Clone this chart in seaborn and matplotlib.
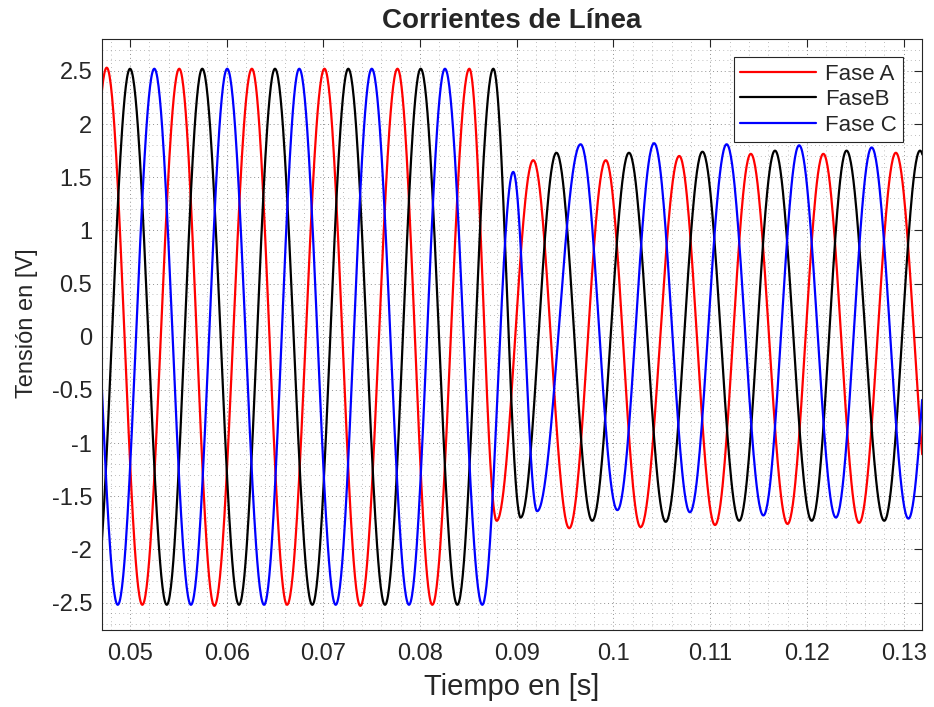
import numpy as np
import pandas as pd
import matplotlib
matplotlib.use('Agg')
import matplotlib.pyplot as plt
import seaborn as sns
from matplotlib.ticker import MultipleLocator

# extremos (tiempo [s], valor), por fase
t_a = [0.04384, 0.04759, 0.05127, 0.05509, 0.05872, 0.06260, 0.06624, 0.07011, 0.07382, 0.07766,
       0.08126, 0.08509, 0.08792, 0.0917, 0.09542, 0.0992, 0.1028, 0.1068, 0.1105, 0.1142,
       0.1180, 0.1217, 0.1254, 0.1292, 0.1330]
v_a = [-2.52, 2.53, -2.52, 2.52, -2.53, 2.52, -2.52, 2.52, -2.53, 2.52,
       -2.52, 2.52, -1.73, 1.66, -1.80, 1.66, -1.79, 1.70, -1.77, 1.72,
       -1.76, 1.72, -1.75, 1.73, -1.75]

t_b = [0.04625, 0.0500, 0.05380, 0.05747, 0.06127, 0.06499, 0.06885, 0.07257, 0.07637, 0.08006,
       0.08385, 0.08757, 0.0904, 0.0941, 0.0978, 0.1016, 0.1054, 0.1092, 0.1130, 0.1167,
       0.1205, 0.1241, 0.1280, 0.1317, 0.1355]
v_b = [-2.52, 2.52, -2.52, 2.52, -2.52, 2.52, -2.52, 2.52, -2.52, 2.52,
       -2.52, 2.52, -1.70, 1.73, -1.73, 1.73, -1.74, 1.74, -1.73, 1.75,
       -1.73, 1.75, -1.73, 1.75, -1.73]

t_c = [0.04498, 0.04873, 0.05251, 0.0563, 0.06005, 0.06386, 0.0675, 0.07127, 0.0750, 0.07885,
       0.08257, 0.08643, 0.08963, 0.0921, 0.0966, 0.1004, 0.1042, 0.1079, 0.1117, 0.1155,
       0.1192, 0.1230, 0.1267, 0.1305, 0.1342]
v_c = [2.52, -2.52, 2.52, -2.52, 2.52, -2.52, 2.52, -2.52, 2.52, -2.52,
       2.52, -2.52, 1.55, -1.64, 1.81, -1.63, 1.82, -1.65, 1.81, -1.68,
       1.80, -1.70, 1.78, -1.71, 1.77]

fases = ['Fase A', 'FaseB', 'Fase C']
colores = ['#ff0000', '#000000', '#0000ff']

x_ticks = [0.05, 0.06, 0.07, 0.08, 0.09, 0.10, 0.11, 0.12, 0.13]
x_labels = ['0.05', '0.06', '0.07', '0.08', '0.09', '0.1', '0.11', '0.12', '0.13']
y_ticks = [-2.5, -2, -1.5, -1, -0.5, 0, 0.5, 1, 1.5, 2, 2.5]
y_labels = ['-2.5', '-2', '-1.5', '-1', '-0.5', '0', '0.5', '1', '1.5', '2', '2.5']


def curva(t_ext, v_ext, n=60):
    # medio ciclo de coseno entre cada par de extremos leidos
    ts, vs = [], []
    for i in range(len(t_ext) - 1):
        t0, t1 = t_ext[i], t_ext[i + 1]
        v0, v1 = v_ext[i], v_ext[i + 1]
        s = np.linspace(0, 1, n, endpoint=False)
        ts.append(t0 + s * (t1 - t0))
        vs.append((v0 + v1) / 2 + (v0 - v1) / 2 * np.cos(np.pi * s))
    ts.append([t_ext[-1]])
    vs.append([v_ext[-1]])
    return np.concatenate(ts), np.concatenate(vs)


partes = []
for nombre, (te, ve) in zip(fases, [(t_a, v_a), (t_b, v_b), (t_c, v_c)]):
    t, v = curva(te, ve)
    partes.append(pd.DataFrame({'t': t, 'v': v, 'fase': nombre}))
df = pd.concat(partes, ignore_index=True)

sns.set_style('white')
plt.rcParams['font.family'] = ['Liberation Sans', 'DejaVu Sans']
plt.rcParams['axes.unicode_minus'] = False

fig = plt.figure(figsize=(9.34, 7.07), dpi=100)
ax = fig.add_axes([0.1092, 0.1089, 0.8779, 0.836])

sns.lineplot(data=df, x='t', y='v', hue='fase', hue_order=fases, palette=colores,
             linewidth=1.6, estimator=None, sort=False, ax=ax)

ax.set_xlim(0.0471, 0.1319)
ax.set_ylim(-2.757, 2.80)
ax.set_xticks(x_ticks, labels=x_labels)
ax.set_yticks(y_ticks, labels=y_labels)
ax.xaxis.set_minor_locator(MultipleLocator(0.002))
ax.yaxis.set_minor_locator(MultipleLocator(0.1))

gris = '#262626'
ax.tick_params(which='major', direction='in', length=6, width=0.8, color=gris,
               top=True, right=True, labelsize=17, labelcolor=gris)
ax.tick_params(axis='x', which='major', pad=9)
ax.tick_params(axis='y', which='major', pad=7)
ax.tick_params(which='minor', length=0)
ax.grid(which='major', linestyle=(0, (1, 3)), color=gris, alpha=0.5, linewidth=0.7)
ax.grid(which='minor', linestyle=(0, (1, 4)), color=gris, alpha=0.4, linewidth=0.6)
for s in ax.spines.values():
    s.set_color(gris)
    s.set_linewidth(0.8)

ax.set_title('Corrientes de Línea', fontsize=20, fontweight='bold', pad=8)
ax.set_xlabel('Tiempo en [s]', fontsize=21, color=gris, labelpad=6)
ax.set_ylabel('Tensión en [V]', fontsize=17, color=gris)
ax.yaxis.set_label_coords(-0.078, 0.519)

h, l = ax.get_legend_handles_labels()
leg = ax.legend(h, l, loc='upper right', bbox_to_anchor=(0.977, 0.9695), borderaxespad=0,
                fontsize=16, handlelength=3.4, handletextpad=0.4, borderpad=0.3,
                labelspacing=0.2, fancybox=False, framealpha=1, edgecolor=gris)
leg.get_frame().set_linewidth(0.8)
for line in leg.get_lines():
    line.set_linewidth(1.6)

fig.savefig('out.png', dpi=100)
